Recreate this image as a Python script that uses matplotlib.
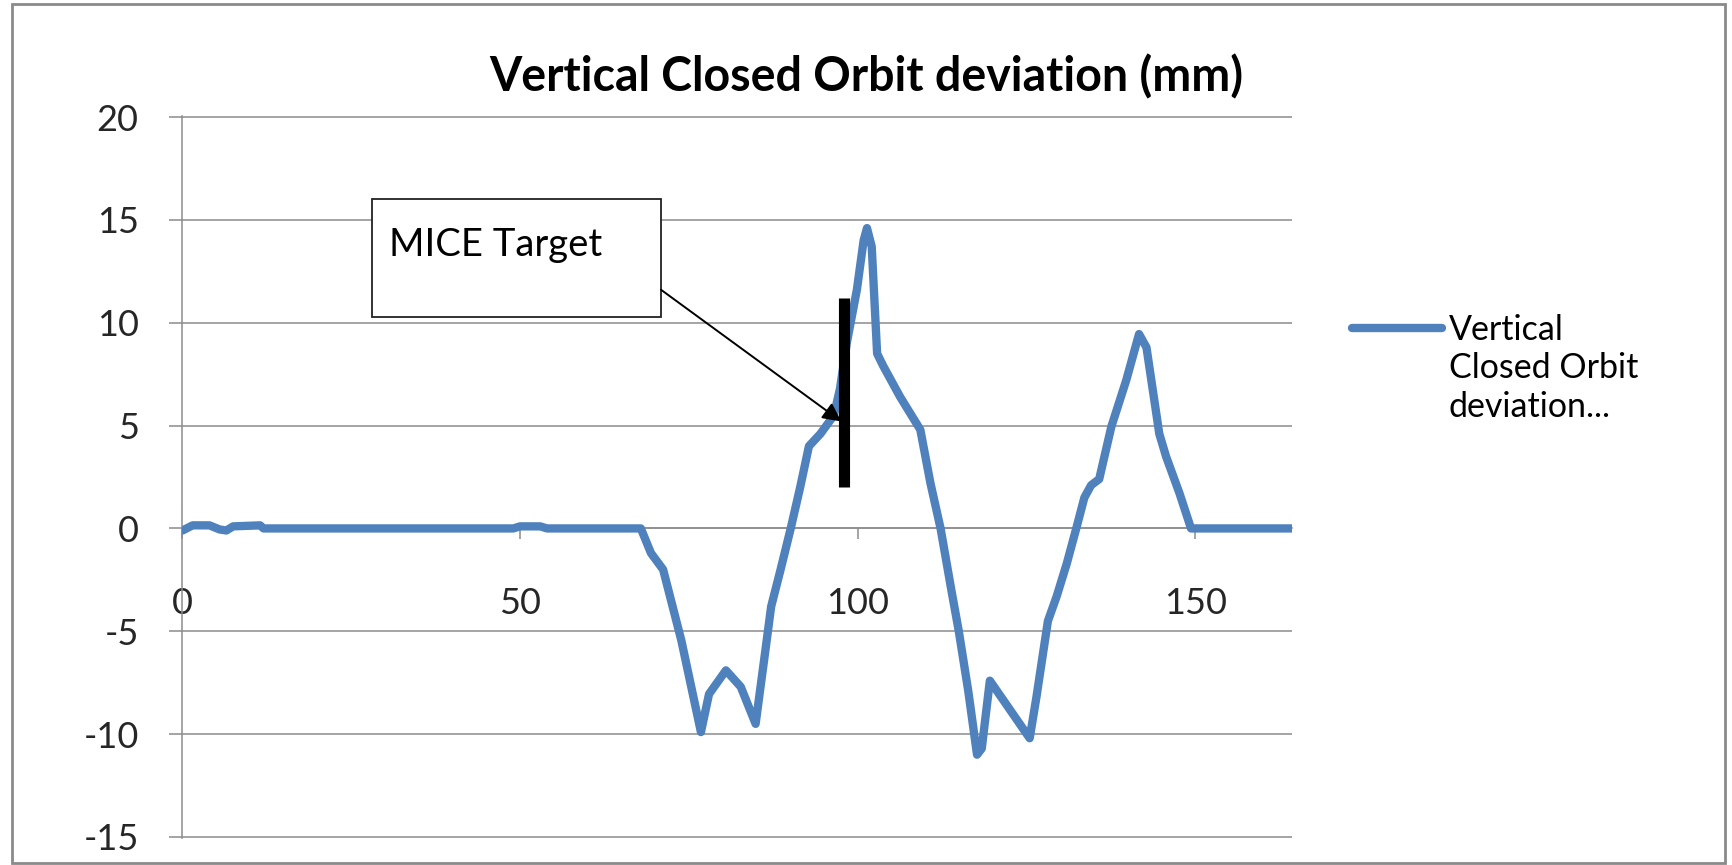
import matplotlib
matplotlib.use("Agg")
import matplotlib.pyplot as plt
from matplotlib.patches import Rectangle

# vertical closed orbit deviation (mm) vs position
position = [0, 1.5, 4, 5.5, 6.5, 7.5, 11.5, 12, 49, 50, 53, 54,
            67.9, 69.4, 71.2, 73.9, 76.8, 78.0, 80.5, 82.7, 84.9, 86.4, 87.2,
            88.6, 90.1, 91.5, 92.8, 94.5, 96.5, 97.4, 98.4, 99.9, 100.9, 101.4,
            102.1, 102.9, 103.8, 106.3, 109.3, 110.8, 112.3, 113.9, 115.0,
            116.4, 117.7, 118.4, 119.6, 125.5, 126.5, 128.2, 129.5, 131.0,
            132.4, 133.6, 134.6, 135.8, 137.6, 139.8, 141.7, 142.8, 144.7,
            145.7, 147.7, 149.4, 164.3]
deviation = [-0.1, 0.15, 0.15, -0.05, -0.1, 0.1, 0.15, 0.0, 0.0, 0.1, 0.1, 0.0,
             0.0, -1.2, -2.0, -5.45, -9.9, -8.05, -6.9, -7.7, -9.5, -5.8, -3.8,
             -2.0, 0.0, 2.0, 4.0, 4.6, 5.5, 6.8, 9.0, 11.6, 14.0, 14.6,
             13.7, 8.5, 7.9, 6.4, 4.8, 2.2, 0.0, -3.0, -5.0,
             -7.9, -11.0, -10.7, -7.4, -10.2, -8.2, -4.5, -3.3, -1.7,
             0.0, 1.5, 2.1, 2.4, 4.95, 7.2, 9.45, 8.8, 4.6,
             3.5, 1.7, 0.0, 0.0]

x_ticks = [0, 50, 100, 150]
y_ticks = [-15, -10, -5, 0, 5, 10, 15, 20]

title = "Vertical Closed Orbit deviation (mm)"
series_label = "Vertical\nClosed Orbit\ndeviation..."

# MICE target marker and its callout
target_label = "MICE Target"
target_x = 98.0
target_lo, target_hi = 2.0, 11.2
arrow_tip = (97.6, 5.2)
arrow_tail = (70.9, 11.6)
box_x0, box_y0, box_w, box_h = 28.1, 10.3, 42.8, 5.7

grey = "#8c8c8c"
blue = "#4f81bd"
text_col = "#262626"

plt.rcParams['font.family'] = ['Lato', 'DejaVu Sans']
plt.rcParams['axes.unicode_minus'] = False

fig = plt.figure(figsize=(17.33, 8.65), dpi=100)
ax = fig.add_axes([0.1053, 0.0312, 0.6400, 0.8347])

ax.plot(position, deviation, color=blue, lw=6, solid_joinstyle='round',
        solid_capstyle='round', label=series_label, zorder=3)

ax.set_xlim(0, 164.3)
ax.set_ylim(-15.05, 20.05)
ax.set_xticks(x_ticks)
ax.set_yticks(y_ticks)
ax.yaxis.grid(True, color=grey, lw=1.1)
ax.set_axisbelow(True)

for side in ['top', 'right']:
    ax.spines[side].set_visible(False)
ax.spines['left'].set_color(grey)
ax.spines['left'].set_linewidth(1.1)
ax.spines['bottom'].set_position(('data', 0))
ax.spines['bottom'].set_color(grey)
ax.spines['bottom'].set_linewidth(1.1)

ax.tick_params(axis='y', length=9.5, width=1.1, color=grey, pad=22,
               labelsize=26, labelcolor=text_col)
ax.tick_params(axis='x', length=8, width=1.1, color=grey, pad=34,
               labelsize=26, labelcolor=text_col)

# callout box, arrow and the target bar
ax.add_patch(Rectangle((box_x0, box_y0), box_w, box_h, facecolor='white',
                       edgecolor='#222222', lw=1.3, zorder=4))
ax.text(30.6, 13.8, target_label, fontsize=27.5,
        color='black', va='center', ha='left', zorder=5)
ax.annotate('', xy=arrow_tip, xytext=arrow_tail, zorder=6,
            arrowprops=dict(arrowstyle='-|>', color='black', lw=1.4,
                            mutation_scale=28, shrinkA=0, shrinkB=0))
ax.plot([target_x, target_x], [target_lo, target_hi], color='black', lw=8,
        solid_capstyle='butt', zorder=5)

leg = ax.legend(loc='upper left', bbox_to_anchor=(0.780, 0.637),
                bbox_transform=fig.transFigure, frameon=False, fontsize=24.5,
                handlelength=2.65, handletextpad=0.2, handleheight=1.1,
                borderpad=0, borderaxespad=0, labelspacing=0)
leg.get_texts()[0].set_linespacing(1.25)
# put the legend line level with the first text line, as Excel does
for col in leg._legend_handle_box.get_children():
    for row in col.get_children():
        row.align = 'top'

fig.text(0.5, 0.911, title, ha='center', va='center', fontsize=33.5,
         fontweight='bold', color='black')

# outer chart border
fig.patches.append(Rectangle((12 / 1733, 2 / 865), 1713 / 1733, 859 / 865,
                             transform=fig.transFigure, fill=False,
                             edgecolor='#8a8a8a', lw=2))

fig.savefig('out.png', dpi=100)
